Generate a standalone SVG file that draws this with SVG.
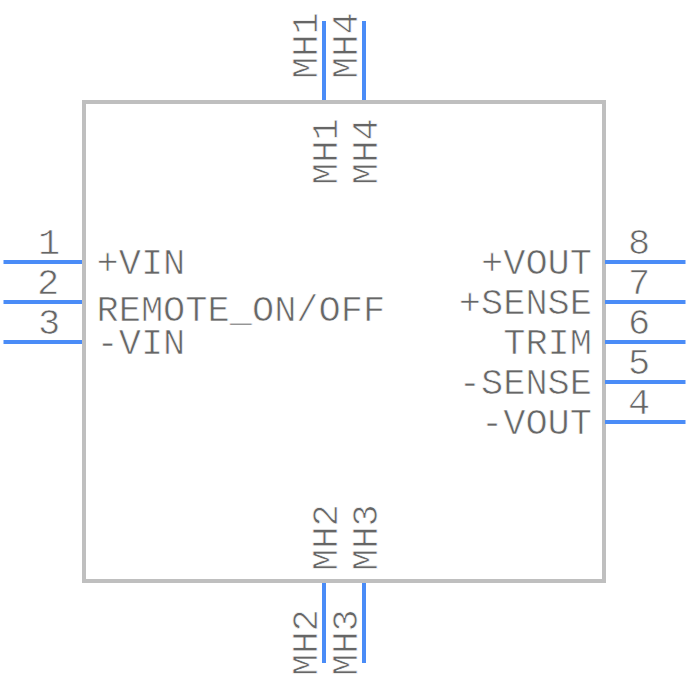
<svg xmlns="http://www.w3.org/2000/svg" width="688" height="684" viewBox="0 0 688 684">
<style>
text{font-family:"Liberation Mono",monospace;font-size:37px;fill:#666;stroke:#fff;stroke-width:.7px}
.e{text-anchor:end}
.m{text-anchor:middle}
.p{stroke:#4a8cf7;stroke-width:4;fill:none}
.b{stroke:#bfbfbf;stroke-width:4;fill:none}
</style>
<rect width="688" height="684" fill="#fff"/>
<g id="body"><rect class="b" x="84" y="102" width="520" height="479"/></g>
<g id="connectors">
<path class="p" d="M3.500 262H82M3.500 302H82M3.500 342H82M605 262H685.500M605 302H685.500M605 342H685.500M605 382H685.500M605 422H685.500M324 21V100M364 21V100M324 583V663M364 583V663"/>
</g>
<g id="pin1"><text class="m" x="49" y="254">1</text><text x="96.500" y="274">+VIN</text></g>
<g id="pin2"><text class="m" x="48" y="294">2</text><text x="96.500" y="321">REMOTE_ON/OFF</text></g>
<g id="pin3"><text class="m" x="49" y="334">3</text><text x="96.500" y="354">-VIN</text></g>
<g id="pin8"><text class="m" x="639" y="254">8</text><text class="e" x="592" y="274">+VOUT</text></g>
<g id="pin7"><text class="m" x="639" y="294">7</text><text class="e" x="592" y="314">+SENSE</text></g>
<g id="pin6"><text class="m" x="639" y="334">6</text><text class="e" x="592" y="354">TRIM</text></g>
<g id="pin5"><text class="m" x="639" y="374">5</text><text class="e" x="592" y="394">-SENSE</text></g>
<g id="pin4"><text class="m" x="639" y="414">4</text><text class="e" x="592" y="434">-VOUT</text></g>
<g id="mh1"><text transform="translate(317 79) rotate(-90)">MH1</text><text transform="translate(337 185) rotate(-90)">MH1</text></g>
<g id="mh4"><text transform="translate(357 79) rotate(-90)">MH4</text><text transform="translate(377 185) rotate(-90)">MH4</text></g>
<g id="mh2"><text transform="translate(317 676) rotate(-90)">MH2</text><text transform="translate(337 571) rotate(-90)">MH2</text></g>
<g id="mh3"><text transform="translate(357 676) rotate(-90)">MH3</text><text transform="translate(377 571) rotate(-90)">MH3</text></g>
</svg>
